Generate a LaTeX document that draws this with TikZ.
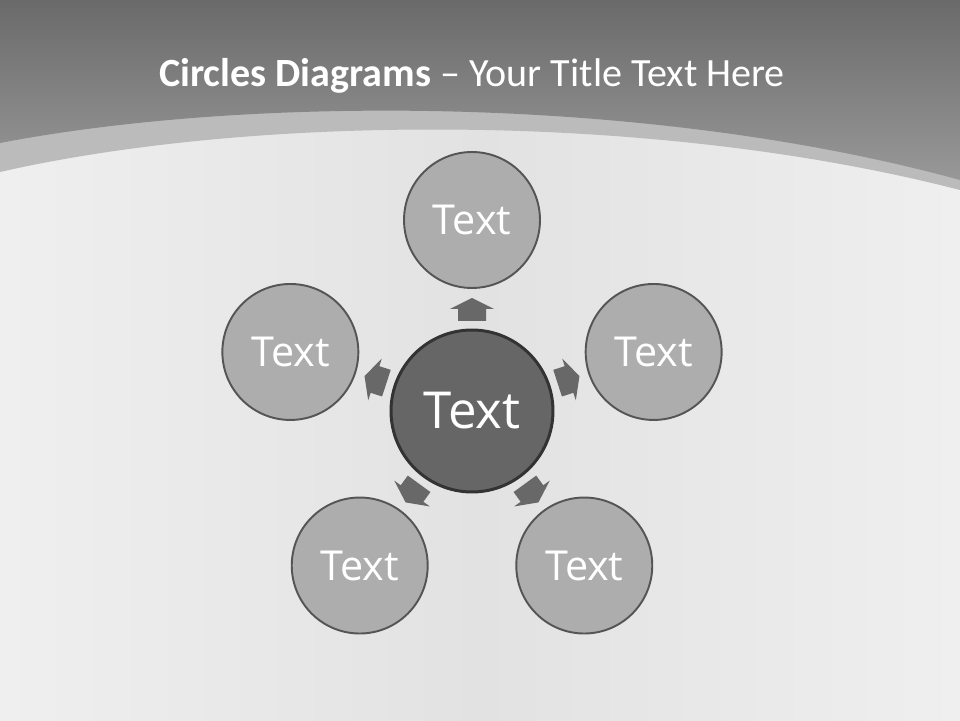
\documentclass[tikz,border=0pt]{standalone}
\usepackage{fontspec}
\setmainfont{Carlito}
\newfontfamily\circlefont{Open Sans}
\usetikzlibrary{shapes.geometric}
\definecolor{topgray}{HTML}{6A6A6A}
\definecolor{headgray}{HTML}{989898}
\definecolor{bandgray}{HTML}{BBBBBB}
\definecolor{paper}{HTML}{EFEFEF}
\definecolor{papermid}{HTML}{E2E2E2}
\definecolor{hubgray}{HTML}{666666}
\definecolor{hubline}{HTML}{333333}
\definecolor{spokegray}{HTML}{ADADAD}
\definecolor{spokeline}{HTML}{555555}
\definecolor{arrowgray}{HTML}{686868}
\tikzstyle{hub} = [circle, minimum size=3.24cm, inner sep=0pt, fill=hubgray, draw=hubline, line width=1.7pt, text=white, font=\circlefont\fontsize{29}{32}\selectfont]
\tikzstyle{spoke} = [circle, minimum size=2.72cm, inner sep=0pt, fill=spokegray, draw=spokeline, line width=1.1pt, text=white, font=\circlefont\fontsize{23.5}{26}\selectfont]
\tikzstyle{pointer} = [fill=arrowgray]
\tikzstyle{heading} = [text=white, font=\fontsize{22.8}{26}\selectfont, anchor=base]

\begin{document}
\begin{tikzpicture}[x=0.02cm, y=0.02cm]
    \useasboundingbox (0,0) rectangle (960,720);
    \shade[left color=paper, right color=paper, middle color=papermid] (0,0) rectangle (960,720);
    \fill[bandgray] (0,720) -- (0,548) .. controls (250,605) and (650,610) .. (960,530) -- (960,720) -- cycle;
    \shade[top color=topgray, bottom color=headgray] (0,720) -- (0,577) .. controls (250,625) and (650,625) .. (960,540) -- (960,720) -- cycle;

    \node (title) [heading] at (472,633) {\textbf{Circles Diagrams} -- Your Title Text Here};

    \node (1) [hub] at (472,309) {Text};
    \node (2) [spoke] at ([shift={(90:191)}]1) {Text};
    \node (3) [spoke] at ([shift={(162:191)}]1) {Text};
    \node (4) [spoke] at ([shift={(18:191)}]1) {Text};
    \node (5) [spoke] at ([shift={(234:191)}]1) {Text};
    \node (6) [spoke] at ([shift={(306:191)}]1) {Text};

    \foreach \a in {90,162,18,234,306}
        \fill[pointer, shift={(1)}, rotate=\a-90] (-14,90) -- (14,90) -- (14,102) -- (22,102) -- (0,113) -- (-22,102) -- (-14,102) -- cycle;

\end{tikzpicture}
\end{document}
